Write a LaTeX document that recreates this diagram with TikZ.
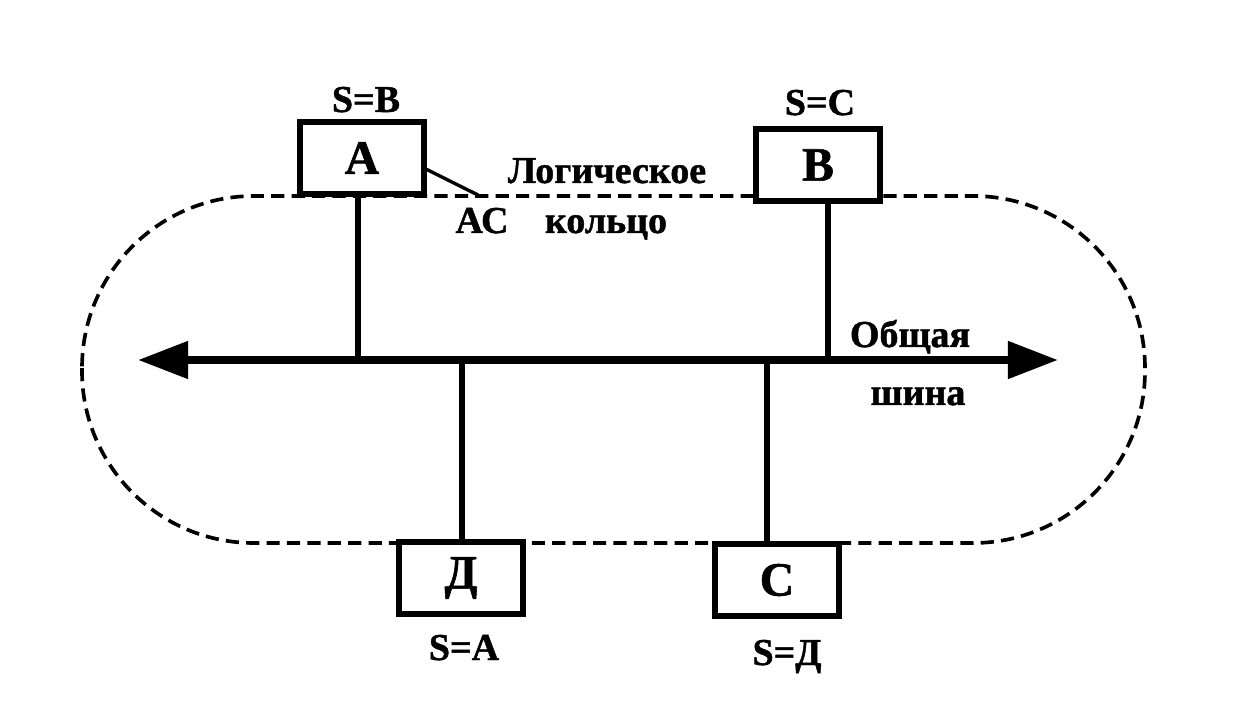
\documentclass[tikz,border=0pt]{standalone}
\usepackage{fontspec}
\setmainfont{Liberation Serif}[BoldFeatures={FakeBold=1.2}]
\usetikzlibrary{arrows.meta}
\tikzset{
  station/.style={draw, line width=3.6pt, fill=white, inner sep=0pt,
                  minimum width=3.1cm, minimum height=1.8cm,
                  font=\fontsize{34}{36}\selectfont\bfseries},
  lbl/.style={anchor=base, inner sep=0pt,
              font=\fontsize{27}{29}\selectfont\bfseries},
  busline/.style={{Triangle[length=1.25cm,width=0.9cm]}-{Triangle[length=1.25cm,width=0.9cm]},
                  line width=5.5pt},
  tap/.style={line width=4.2pt},
  ring/.style={line width=2.6pt, dash pattern=on 0.33cm off 0.18cm},
  pointer/.style={line width=2.4pt}
}

\begin{document}
\begin{tikzpicture}[x=0.025cm, y=-0.025cm]
  \useasboundingbox (0,0) rectangle (1243,727);

  \draw[ring, rounded corners=4.3cm] (82,196) rectangle (1145,543);

  \coordinate (busL) at (138,360);
  \coordinate (busR) at (1058,360);
  \coordinate (jA) at (358,360);
  \coordinate (jB) at (828,360);
  \coordinate (jD) at (462,360);
  \coordinate (jC) at (767,360);
  \coordinate (acpt) at (478,195);

  \node[station] (A) at (362,158) {А};
  \node[station] (B) at (818,165) {В};
  \node[station] (D) at (461,578) {Д};
  \node[station] (C) at (777,580) {С};

  \draw[busline] (busL) -- (busR);
  \draw[tap] (jA |- A.south) -- (jA);
  \draw[tap] (jB |- B.south) -- (jB);
  \draw[tap] (jD) -- (jD |- D.north);
  \draw[tap] (jC) -- (jC |- C.north);
  \draw[pointer] (A.-10) -- (acpt);

  \node[lbl] (sA) at (366,112) {S=В};
  \node[lbl] (sB) at (820,115) {S=С};
  \node[lbl] (sD) at (464,660) {S=А};
  \node[lbl] (sC) at (787,665) {S=Д};
  \node[lbl] (ac) at (482,233) {АС};
  \node[lbl] (ring1) at (607,183) {Логическое};
  \node[lbl] (ring2) at (606,233) {кольцо};
  \node[lbl] (bus1) at (910,347) {Общая};
  \node[lbl] (bus2) at (918,405) {шина};
\end{tikzpicture}
\end{document}
